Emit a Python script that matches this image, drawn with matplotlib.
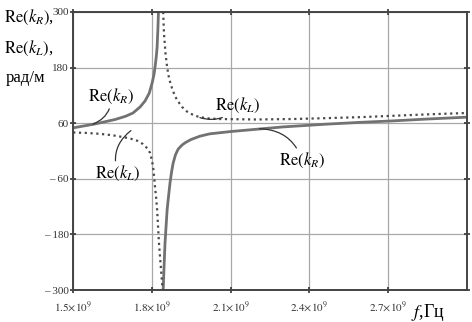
import numpy as np
import matplotlib
matplotlib.use('Agg')
import matplotlib.pyplot as plt

plt.rcParams['font.family'] = ['Liberation Serif', 'DejaVu Serif']
plt.rcParams['mathtext.fontset'] = 'stix'

# frequency in GHz, Re(k) in rad/m
kR_left_f = [1.500, 1.540, 1.580, 1.620, 1.660, 1.700, 1.728, 1.755, 1.774, 1.790,
             1.801, 1.808, 1.812, 1.817, 1.820, 1.823, 1.825]
kR_left_v = [50, 54, 58, 63, 68, 75, 82, 95, 108, 125,
             147, 165, 181, 205, 225, 265, 300]
kR_right_f = [1.843, 1.847, 1.850, 1.858, 1.864, 1.869, 1.875, 1.881, 1.890, 1.900,
              1.915, 1.930, 1.950, 1.983, 2.020, 2.100, 2.200, 2.300, 2.467, 2.600,
              2.718, 2.850, 3.000]
kR_right_v = [-300, -240, -199, -127, -95, -69, -45, -26, -8, 4,
              13, 19, 25, 32, 37, 42, 47, 52, 58, 62,
              65, 69, 73]

kL_left_f = [1.500, 1.550, 1.603, 1.650, 1.690, 1.717, 1.745, 1.766, 1.782, 1.793,
             1.800, 1.805, 1.810, 1.812, 1.816, 1.820, 1.827, 1.834, 1.841]
kL_left_v = [40, 39, 37, 34, 30, 27, 22, 15, 6, -4,
             -20, -36, -65, -78, -100, -127, -199, -250, -300]
kL_right_f = [1.843, 1.846, 1.852, 1.858, 1.866, 1.877, 1.887, 1.896, 1.915, 1.934,
              1.960, 1.983, 2.020, 2.060, 2.200, 2.337, 2.470, 2.593, 2.720, 2.848, 3.000]
kL_right_v = [300, 254, 210, 181, 155, 135, 120, 110, 95, 85,
              77, 73, 70, 69, 68, 69, 71, 73, 76, 79, 82]

x_ticks = [1.5, 1.8, 2.1, 2.4, 2.7]
x_labels = [r'$1.5{\times}10^{9}$', r'$1.8{\times}10^{9}$', r'$2.1{\times}10^{9}$',
            r'$2.4{\times}10^{9}$', r'$2.7{\times}10^{9}$']
y_ticks = [-300, -180, -60, 60, 180, 300]
y_labels = ['\u2013 300', '\u2013 180', '\u2013 60', '60', '180', '300']


def main():
    fig = plt.figure(figsize=(4.72, 3.22), dpi=100)
    ax = fig.add_axes([0.155, 0.099, 0.834, 0.864])

    solid = dict(color='#727272', lw=2.0, solid_capstyle='round', solid_joinstyle='round')
    dotted = dict(color='#4a4a4a', lw=1.6, linestyle=(0, (1, 1.6)))

    ax.plot(kR_left_f, kR_left_v, **solid)
    ax.plot(kR_right_f, kR_right_v, **solid)
    ax.plot(kL_left_f, kL_left_v, **dotted)
    ax.plot(kL_right_f, kL_right_v, **dotted)

    ax.set_xlim(1.5, 3.0)
    ax.set_ylim(-300, 300)
    ax.set_xticks(x_ticks)
    ax.set_xticklabels(x_labels, fontsize=8)
    ax.set_yticks(y_ticks)
    ax.set_yticklabels(y_labels, fontsize=8)
    ax.tick_params(axis='both', direction='inout', length=4, width=1.2,
                   color='#333333', labelcolor='#333333', top=True, right=True)
    ax.tick_params(axis='x', pad=5)
    ax.tick_params(axis='y', pad=1)
    ax.grid(True, color='#a8a8a8', lw=0.9)
    for s in ax.spines.values():
        s.set_color('#444444')
        s.set_linewidth(1.4)

    lab = r'$\mathrm{Re}\left(k_{%s}\right)$'
    arc = dict(arrowstyle='-', color='#333333', lw=0.9, shrinkA=0, shrinkB=0)
    ax.annotate(lab % 'R', xy=(1.575, 58), xytext=(1.645, 97), fontsize=12,
                ha='center', va='bottom',
                arrowprops=dict(arc, connectionstyle='arc3,rad=-0.35'))
    ax.annotate(lab % 'L', xy=(1.72, 44), xytext=(1.67, -27), fontsize=12,
                ha='center', va='top',
                arrowprops=dict(arc, connectionstyle='arc3,rad=-0.35'))
    ax.annotate(lab % 'L', xy=(1.983, 72), xytext=(2.04, 99), fontsize=12,
                ha='left', va='center',
                arrowprops=dict(arc, connectionstyle='arc3,rad=-0.35'))
    ax.annotate(lab % 'R', xy=(2.21, 48), xytext=(2.285, -20), fontsize=12,
                ha='left', va='center',
                arrowprops=dict(arc, connectionstyle='arc3,rad=0.35'))

    fig.text(0.008, 0.945, lab % 'R' + ',', fontsize=12, ha='left', va='center')
    fig.text(0.008, 0.850, lab % 'L' + ',', fontsize=12, ha='left', va='center')
    fig.text(0.012, 0.758, 'рад/м', fontsize=12, ha='left', va='center')
    fig.text(0.87, 0.03, r'$f$' + ',Гц', fontsize=13, ha='left', va='center')

    plt.savefig('out.png', dpi=100)


if __name__ == '__main__':
    main()
